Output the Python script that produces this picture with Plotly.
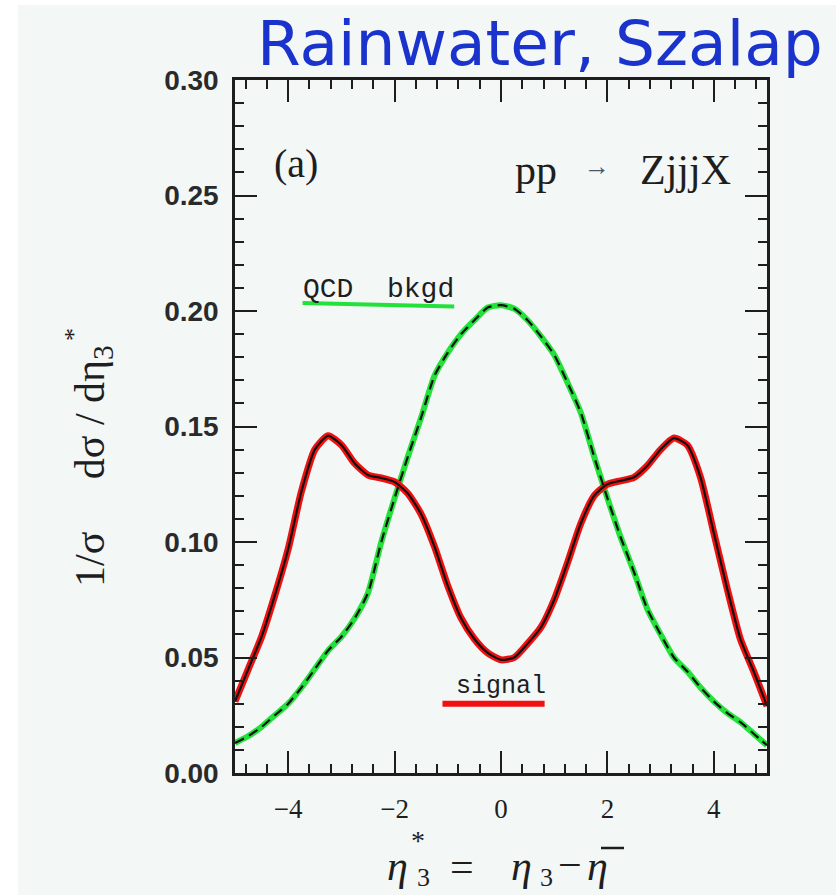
import plotly.graph_objects as go

# ---------------- data ----------------
eta = [-5.0, -4.75, -4.5, -4.25, -4.0, -3.75, -3.5, -3.25, -3.0, -2.75, -2.5, -2.25, -2.0,
       -1.75, -1.5, -1.25, -1.0, -0.75, -0.5, -0.25, 0.0, 0.25, 0.5, 0.75, 1.0, 1.25, 1.5,
       1.75, 2.0, 2.25, 2.5, 2.75, 3.0, 3.25, 3.5, 3.75, 4.0, 4.25, 4.5, 4.75, 5.0]

signal = [0.031, 0.045, 0.059, 0.077, 0.097, 0.122, 0.140, 0.146, 0.142, 0.134, 0.129, 0.1277, 0.126,
          0.121, 0.112, 0.098, 0.081, 0.067, 0.058, 0.052, 0.049, 0.050, 0.056, 0.063, 0.075, 0.091, 0.108,
          0.120, 0.125, 0.1265, 0.128, 0.133, 0.140, 0.145, 0.142, 0.128, 0.104, 0.080, 0.058, 0.044, 0.029]

qcd_bkgd = [0.013, 0.016, 0.020, 0.025, 0.030, 0.037, 0.045, 0.053, 0.059, 0.067, 0.078, 0.100, 0.119,
            0.137, 0.154, 0.172, 0.182, 0.190, 0.196, 0.2015, 0.2025, 0.201, 0.196, 0.189, 0.181, 0.169, 0.156,
            0.137, 0.119, 0.102, 0.087, 0.071, 0.060, 0.050, 0.044, 0.037, 0.031, 0.026, 0.022, 0.017, 0.012]

x_ticks = [-4, -2, 0, 2, 4]
y_ticks = [0.00, 0.05, 0.10, 0.15, 0.20, 0.25, 0.30]
y_tick_labels = ["0.00", "0.05", "0.10", "0.15", "0.20", "0.25", "0.30"]

# ---------------- layout constants ----------------
W, H = 836, 895
ML, MR, MT, MB = 235, 69, 80, 122
PW, PH = W - ML - MR, H - MT - MB

SCAN_BG = "#f3f7f6"
INK = "#1e1e1e"
SERIF = "Liberation Serif, DejaVu Serif, serif"
MONO = "Liberation Mono, DejaVu Sans Mono, monospace"
GREEN = "#22e23a"
RED = "#f01010"


def px(xp):
    return (xp - ML) / PW


def py(yp):
    return (H - MB - yp) / PH


fig = go.Figure()

# hand-drawn colour traces underneath
fig.add_trace(go.Scatter(x=eta, y=qcd_bkgd, mode="lines",
                         line=dict(color=GREEN, width=6, shape="spline", smoothing=0.6),
                         hoverinfo="skip", showlegend=False))
fig.add_trace(go.Scatter(x=eta, y=signal, mode="lines",
                         line=dict(color=RED, width=7, shape="spline", smoothing=0.6),
                         hoverinfo="skip", showlegend=False))
# original printed curves on top
fig.add_trace(go.Scatter(x=eta, y=qcd_bkgd, mode="lines",
                         line=dict(color="#111111", width=2.2, dash="10px,6px", shape="spline", smoothing=0.6),
                         hoverinfo="skip", showlegend=False))
fig.add_trace(go.Scatter(x=eta, y=signal, mode="lines",
                         line=dict(color="#111111", width=2.2, shape="spline", smoothing=0.6),
                         hoverinfo="skip", showlegend=False))

# scanned-page background
fig.add_shape(type="rect", xref="paper", yref="paper", x0=px(18), x1=px(W + 5),
              y0=py(H + 5), y1=py(5), fillcolor=SCAN_BG, line=dict(width=0), layer="below")

# underlines of hand annotations
fig.add_shape(type="line", xref="x", yref="y", x0=-3.73, x1=-0.88, y0=0.2035, y1=0.2020,
              line=dict(color=GREEN, width=4))
fig.add_shape(type="line", xref="x", yref="y", x0=-1.1, x1=0.82, y0=0.0300, y1=0.0300,
              line=dict(color=RED, width=6))
# bar over the last eta of the x title
fig.add_shape(type="line", xref="paper", yref="paper", x0=px(601), x1=px(624), y0=py(848), y1=py(848),
              line=dict(color=INK, width=2.5))


def ptxt(text, xp, yp, size, family=SERIF, color=INK, angle=0, xanchor="center"):
    return dict(text=text, x=px(xp), y=py(yp), xref="paper", yref="paper", showarrow=False,
                textangle=angle, xanchor=xanchor, yanchor="middle",
                font=dict(family=family, size=size, color=color))


annotations = [
    dict(text="(a)", x=-3.85, y=0.264, xref="x", yref="y", showarrow=False,
         font=dict(family=SERIF, size=40, color=INK)),
    dict(text="pp", x=0.66, y=0.261, xref="x", yref="y", showarrow=False,
         font=dict(family=SERIF, size=42, color=INK)),
    dict(text="→", x=1.80, y=0.2625, xref="x", yref="y", showarrow=False,
         font=dict(family=SERIF, size=26, color="#4a5566")),
    dict(text="ZjjjX", x=3.46, y=0.261, xref="x", yref="y", showarrow=False,
         font=dict(family=SERIF, size=42, color=INK)),
    dict(text="QCD  bkgd", x=-2.31, y=0.2095, xref="x", yref="y", showarrow=False,
         font=dict(family=MONO, size=28, color=INK)),
    dict(text="signal", x=0.0, y=0.0375, xref="x", yref="y", showarrow=False,
         font=dict(family=MONO, size=25, color=INK)),
    # handwritten note
    ptxt("Rainwater, Szalap", 255, 44, 63,
         family="DejaVu Sans, sans-serif", color="#1a33cc", xanchor="left"),
    # y-axis title
    ptxt("1/σ     dσ / dη<sub>3</sub>", 93, 466, 42, angle=-90),
    ptxt("*", 73, 335, 26, angle=-90),
    # x-axis title pieces
    ptxt("<i>η</i>", 397, 866, 42),
    ptxt("*", 418, 840, 28),
    ptxt("3", 423, 877, 26),
    ptxt("=", 462, 867, 42),
    ptxt("<i>η</i>", 521, 866, 42),
    ptxt("3", 546, 877, 26),
    ptxt("−", 570, 865, 42),
    ptxt("<i>η</i>", 597, 866, 42),
]
fig.update_layout(annotations=annotations)

fig.update_xaxes(range=[-5, 5], tickmode="array", tickvals=x_ticks,
                 ticks="inside", ticklen=22, tickwidth=2, tickcolor=INK,
                 minor=dict(dtick=0.4, tick0=0, ticks="inside", ticklen=9, tickwidth=2, tickcolor=INK),
                 showline=True, linewidth=2.5, linecolor=INK, mirror="allticks",
                 showgrid=False, zeroline=False, ticklabelstandoff=10,
                 tickfont=dict(family=SERIF, size=27, color=INK))
fig.update_yaxes(range=[0, 0.3], tickmode="array", tickvals=y_ticks,
                 ticktext=["<b>%s</b>" % t for t in y_tick_labels],
                 ticks="inside", ticklen=22, tickwidth=2, tickcolor=INK,
                 minor=dict(dtick=0.01, tick0=0, ticks="inside", ticklen=9, tickwidth=2, tickcolor=INK),
                 showline=True, linewidth=2.5, linecolor=INK, mirror="allticks",
                 showgrid=False, zeroline=False, ticklabelstandoff=8,
                 tickfont=dict(family="Liberation Sans, Arial, sans-serif", size=28, color="#2a2a2a"))

fig.update_layout(width=W, height=H, margin=dict(l=ML, r=MR, t=MT, b=MB),
                  paper_bgcolor="white", plot_bgcolor=SCAN_BG, showlegend=False)

fig.write_html("out.html", config={"displayModeBar": False},
               post_script="document.body.style.margin='0px';document.body.style.overflow='hidden';")
